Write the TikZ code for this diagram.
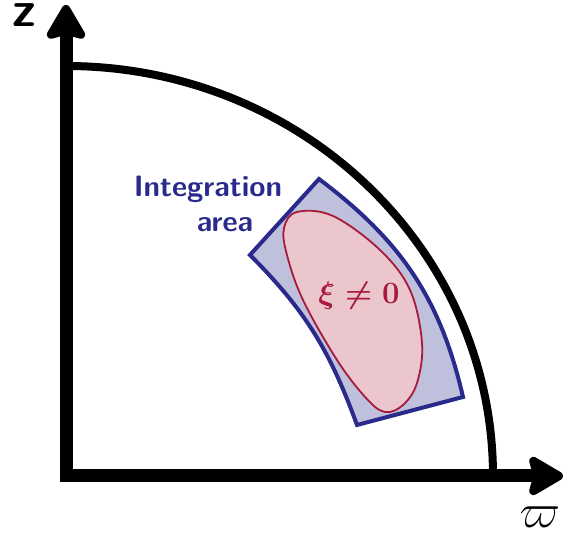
\RequirePackage{fix-cm}
\documentclass[tikz,border=0pt]{standalone}
\usepackage{fontspec}
\usetikzlibrary{arrows.meta,shapes.geometric}
\definecolor{navy}{RGB}{42,42,140}
\definecolor{areafill}{RGB}{191,192,220}
\definecolor{crimson}{RGB}{168,26,60}
\definecolor{pinkfill}{RGB}{235,198,205}
\begin{document}
\begin{tikzpicture}[x=1pt,y=1pt,
  axistip/.tip={Stealth[length=40pt,width=46pt,inset=6pt,round]},
  axisline/.style={line width=13pt, line join=miter, axistip-axistip},
  arcline/.style={line width=8pt},
  areabox/.style={draw=navy, fill=areafill, line width=4pt, line join=miter},
  redblob/.style={draw=crimson, fill=pinkfill, line width=1.8pt},
  arealabel/.style={text=navy, font=\fontsize{29.5}{35}\selectfont\sffamily\bfseries, inner sep=0pt, anchor=base},
]
\useasboundingbox (0,0) rectangle (566,537);
% axes
\coordinate (O) at (66,61);
\coordinate (ztip) at (66,532);
\coordinate (wtip) at (563,61);
\draw[axisline] (ztip) -- (O) -- (wtip);
% outer arc
\coordinate (arcstart) at (493,61);
\draw[arcline] (arcstart) arc[start angle=0,end angle=90,x radius=427,y radius=410];
% integration area
\coordinate (L) at (250,282);
\coordinate (T) at (319,358);
\coordinate (R) at (463,140);
\coordinate (B) at (357,112);
\draw[areabox] (L) -- (T) to[out=-37,in=103] (R) -- (B) to[out=110,in=-45] (L) -- cycle;
% xi region
\draw[redblob] plot[smooth cycle, tension=0.6] coordinates {
  (297,325) (333,321) (380,287) (410,247) (422,194) (417,154)
  (403,132) (385,125) (366,139) (337,177) (303,237) (287,282) (284,309)};
\node[text=crimson, font=\fontsize{31}{36}\selectfont\boldmath, inner sep=0pt] (xi) at (359,241) {$\xi\neq 0$};
% labels
\node[arealabel] (lab1) at (208,340) {Integration};
\node[arealabel] (lab2) at (225,305) {area};
\node[font=\fontsize{50}{54}\selectfont\sffamily\bfseries, inner sep=0pt, anchor=base] (zlab) at (24,510) {z};
\node[font=\fontsize{48}{52}\selectfont, inner sep=0pt] (wlab) at (540,20) {$\varpi$};
\end{tikzpicture}
\end{document}
